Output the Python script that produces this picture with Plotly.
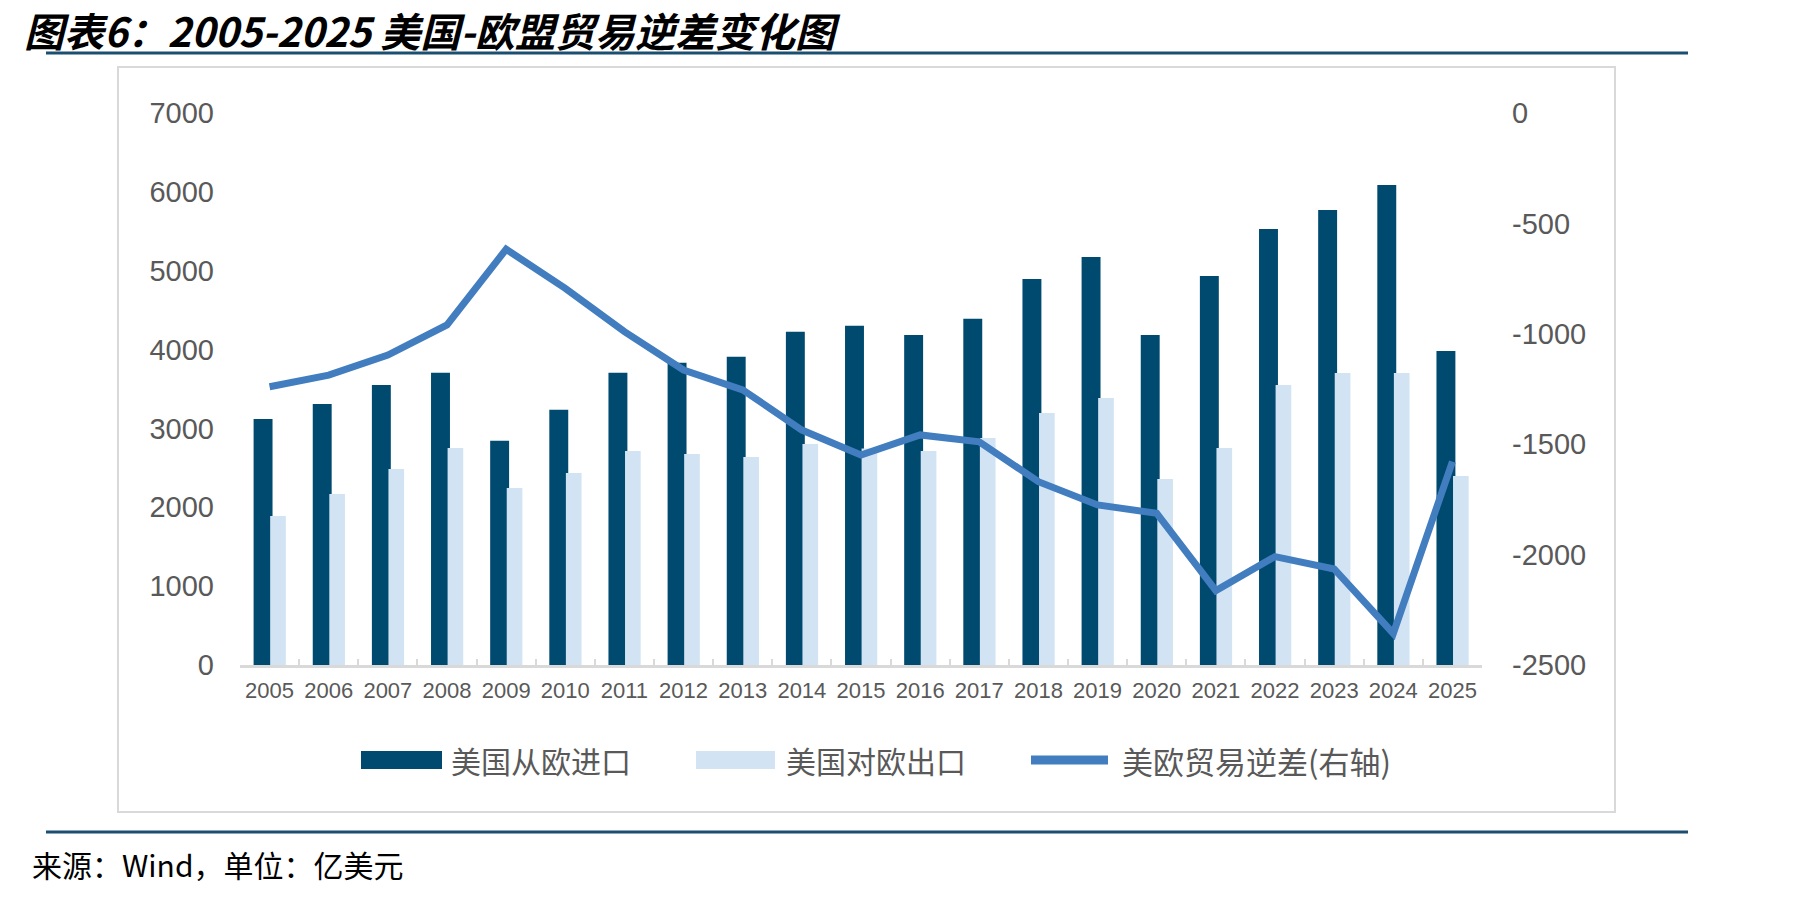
import plotly.graph_objects as go

years = [str(y) for y in range(2005, 2026)]
imports_from_eu = [3120, 3310, 3551, 3707, 2845, 3238, 3707, 3834, 3910, 4227, 4303,
                   4185, 4392, 4895, 5174, 4185, 4933, 5529, 5770, 6087, 3982]
exports_to_eu = [1889, 2168, 2485, 2752, 2245, 2435, 2714, 2676, 2638, 2803, 2745,
                 2714, 2879, 3196, 3386, 2359, 2752, 3551, 3703, 3703, 2397]
trade_deficit = [-1240, -1187, -1096, -960, -617, -794, -990, -1164, -1254, -1436, -1549,
                 -1458, -1489, -1670, -1775, -1813, -2163, -2009, -2065, -2357, -1579]
left_ticks = [0, 1000, 2000, 3000, 4000, 5000, 6000, 7000]
left_labels = ["0", "1000", "2000", "3000", "4000", "5000", "6000", "7000"]
right_ticks = [0, -500, -1000, -1500, -2000, -2500]
right_labels = ["0", "-500", "-1000", "-1500", "-2000", "-2500"]

W, H = 1805, 897
def px(x):
    return x / W
def py(y):
    return 1 - y / H

DARK = "#00496F"
LIGHT = "#D2E4F3"
LINE = "#427EBF"
RULE = "#1B4F72"
GREY = "#595959"
NUMFONT = "Liberation Sans, Arial, sans-serif"
CJK = "Noto Sans CJK SC, sans-serif"

fig = go.Figure()
fig.add_trace(go.Bar(x=years, y=imports_from_eu, name="美国从欧进口",
                     marker=dict(color=DARK, line=dict(width=0)),
                     offset=-0.27, width=0.32))
fig.add_trace(go.Bar(x=years, y=exports_to_eu, name="美国对欧出口",
                     marker=dict(color=LIGHT, line=dict(width=0)),
                     offset=0.01, width=0.265))
fig.add_trace(go.Scatter(x=years, y=trade_deficit, name="美欧贸易逆差(右轴)", yaxis="y2",
                         mode="lines", line=dict(color=LINE, width=7)))

x0, x1 = 240, 1482
ytop, ybot = 113, 665

fig.update_layout(
    width=W, height=H,
    margin=dict(l=0, r=0, t=0, b=0, pad=0, autoexpand=False),
    paper_bgcolor="white", plot_bgcolor="white",
    barmode="overlay", showlegend=False,
    xaxis=dict(domain=[px(x0), px(x1)], type="category", automargin=False,
               showline=True, linecolor="#D9D9D9", linewidth=3,
               ticks="inside", ticklen=6, tickcolor="#D9D9D9", tickwidth=2,
               tickson="boundaries", showgrid=False,
               tickfont=dict(family=NUMFONT, size=22, color=GREY),
               ticklabelstandoff=4),
    yaxis=dict(domain=[py(ybot), py(ytop)], range=[0, 7000], automargin=False,
               tickvals=left_ticks, ticktext=left_labels,
               showgrid=False, zeroline=False, showline=False, ticks="",
               tickfont=dict(family=NUMFONT, size=29, color=GREY),
               ticklabelstandoff=25),
    yaxis2=dict(overlaying="y", side="right", range=[-2500, 0], automargin=False,
                tickvals=right_ticks, ticktext=right_labels,
                showgrid=False, zeroline=False, showline=False, ticks="",
                tickfont=dict(family=NUMFONT, size=29, color=GREY),
                ticklabelstandoff=29, anchor="x"),
)

shapes = [
    dict(type="rect", xref="paper", yref="paper", x0=px(118), x1=px(1615), y0=py(812), y1=py(67),
         line=dict(color="#D9D9D9", width=2), fillcolor="rgba(0,0,0,0)", layer="below"),
    dict(type="line", xref="paper", yref="paper", x0=px(46), x1=px(1688), y0=py(53), y1=py(53),
         line=dict(color=RULE, width=3)),
    dict(type="line", xref="paper", yref="paper", x0=px(46), x1=px(1688), y0=py(832), y1=py(832),
         line=dict(color=RULE, width=3)),
    dict(type="rect", xref="paper", yref="paper", x0=px(361), x1=px(442), y0=py(769), y1=py(751),
         line=dict(width=0), fillcolor=DARK),
    dict(type="rect", xref="paper", yref="paper", x0=px(696), x1=px(775), y0=py(769), y1=py(751),
         line=dict(width=0), fillcolor=LIGHT),
    dict(type="line", xref="paper", yref="paper", x0=px(1031), x1=px(1108), y0=py(760), y1=py(760),
         line=dict(color=LINE, width=9)),
]
fig.update_layout(shapes=shapes)

ann = [
    dict(text="<b><i>图表6：2005-2025 美国-欧盟贸易逆差变化图</i></b>", x=px(22), y=py(30),
         xanchor="left", yanchor="middle", font=dict(family=CJK, size=40, color="black")),
    dict(text="来源：Wind，单位：亿美元", x=px(30), y=py(864),
         xanchor="left", yanchor="middle", font=dict(family=CJK, size=30, color="black")),
    dict(text="美国从欧进口", x=px(449), y=py(760), xanchor="left", yanchor="middle",
         font=dict(family=CJK, size=30, color=GREY)),
    dict(text="美国对欧出口", x=px(784), y=py(760), xanchor="left", yanchor="middle",
         font=dict(family=CJK, size=30, color=GREY)),
    dict(text="美欧贸易逆差(右轴)", x=px(1120), y=py(760), xanchor="left", yanchor="middle",
         font=dict(family=CJK, size=31, color=GREY)),
]
for a in ann:
    a.update(xref="paper", yref="paper", showarrow=False)
fig.update_layout(annotations=ann)

fig.write_html("out.html")
